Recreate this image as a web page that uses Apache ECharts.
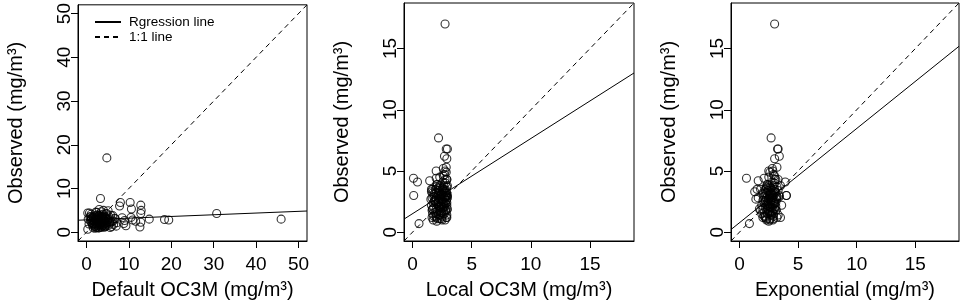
<!DOCTYPE html>
<html>
<head>
<meta charset="utf-8">
<script src="https://cdn.jsdelivr.net/npm/echarts@6/dist/echarts.min.js"></script>
<style>
  html, body { margin: 0; background: #fff; }
  #chart { width: 964px; height: 306px; }
</style>
</head>
<body>
<div id="chart"></div>
<script>
// observed concentration, shared by all three panels
const observed = [
  17.0, 7.7, 6.8, 6.8, 6.2, 6.0, 5.3, 5.2, 5.0, 5.0, 4.4, 4.1, 4.2, 3.0, 0.7,
  0.9, 1.0, 1.0, 1.1, 1.2, 1.2, 1.3, 1.3, 1.4, 1.4, 1.5, 1.5, 1.6, 1.6, 1.7,
  1.7, 1.8, 1.8, 1.9, 1.9, 2.0, 2.0, 2.1, 2.1, 2.2, 2.2, 2.3, 2.3, 2.4, 2.4,
  2.5, 2.5, 2.6, 2.6, 2.7, 2.7, 2.8, 2.8, 2.9, 2.9, 3.0, 3.0, 3.1, 3.1, 3.2,
  3.2, 3.3, 3.3, 3.4, 3.4, 3.5, 3.5, 3.6, 3.7, 3.7, 3.8, 3.9, 4.0, 4.1, 4.3,
  4.5, 4.7, 4.9, 3.5, 1.2, 3.4, 2.8, 2.5, 4.3, 2.3, 1.5, 3.0, 2.9, 2.8, 4.3,
  3.0, 3.1, 3.3, 2.0, 1.9, 2.6, 3.6, 4.4, 1.1, 2.2, 3.8, 2.7, 1.4, 3.2, 4.6,
  2.4, 1.8, 3.9, 2.1, 3.5,
  1.0, 1.1, 1.3, 1.5, 1.6, 1.8, 1.9, 2.0, 2.2, 2.3, 2.5, 2.6, 2.7, 2.8, 2.9,
  3.0, 3.1, 3.2, 3.3, 3.4, 3.6, 3.7, 2.4, 2.1, 1.7, 3.8, 1.2, 2.6, 3.0, 2.9
];
const defaultOC3M = [
  4.8, 3.3, 8.0, 10.3, 12.8, 7.8, 10.6, 3.0, 4.0, 12.9, 0.3, 1.1, 4.6, 0.4, 0.3,
  2.1, 2.8, 1.6, 3.5, 4.2, 2.3, 5.9, 1.9, 3.1, 4.6, 2.6, 3.8, 1.4, 5.2, 2.9,
  4.0, 6.4, 2.2, 3.3, 1.7, 4.4, 2.5, 3.6, 5.5, 1.2, 2.8, 3.9, 4.9, 2.0, 3.2,
  6.1, 2.4, 3.7, 1.5, 4.3, 2.7, 3.4, 5.0, 2.1, 4.1, 3.0, 1.8, 4.7, 2.6, 3.5,
  6.6, 2.3, 4.5, 3.8, 1.3, 2.9, 5.3, 3.6, 2.0, 4.2, 3.1, 5.7, 2.6, 3.9, 4.8,
  2.4, 3.5, 5.1, 0.8, 12.6, 10.5, 10.9, 11.6, 12.8, 12.8, 9.3, 14.8, 18.4, 19.4, 30.7,
  45.9, 6.8, 8.4, 8.8, 0.6, 0.9, 1.0, 0.7, 5.6, 7.2, 6.2, 9.0, 7.0, 1.2, 2.2,
  5.8, 3.4, 2.7, 4.4, 1.6,
  3.0, 2.4, 3.6, 4.4, 2.2, 3.1, 4.8, 1.9, 3.4, 2.7, 4.1, 1.8, 3.3, 2.5, 3.9,
  4.5, 2.3, 3.0, 1.6, 4.0, 2.8, 3.5, 5.4, 1.5, 3.7, 2.9, 4.3, 6.3, 5.1, 1.1
];
const localOC3M = [
  2.75, 2.2, 2.95, 2.85, 2.7, 2.9, 2.85, 2.6, 2.0, 2.75, 0.08, 0.42, 1.45, 0.1, 0.55,
  2.05, 2.75, 1.75, 2.3, 2.85, 1.65, 2.5, 2.0, 2.9, 2.2, 1.7, 2.6, 2.45, 1.9, 2.8,
  2.1, 1.65, 2.35, 2.95, 2.0, 2.55, 1.8, 2.7, 2.25, 1.6, 2.9, 2.4, 2.05, 2.75, 1.75,
  2.6, 2.2, 2.85, 1.9, 2.5, 2.0, 2.95, 1.65, 2.3, 2.7, 2.15, 2.8, 1.8, 2.45, 2.9,
  2.0, 2.6, 1.6, 2.85, 2.25, 2.7, 1.95, 2.5, 2.9, 2.35, 2.65, 2.1, 2.8, 2.55, 2.9,
  2.3, 2.7, 2.85, 1.6, 2.9, 2.6, 2.4, 2.5, 2.75, 2.6, 2.05, 2.9, 2.8, 2.7, 2.9,
  2.95, 2.5, 2.7, 2.3, 1.7, 1.85, 2.15, 2.0, 2.45, 2.65, 2.95, 1.55, 2.35, 1.9, 2.6,
  2.2, 2.8, 2.05, 2.4, 1.7,
  2.5, 2.1, 1.8, 2.7, 2.4, 2.9, 1.7, 2.6, 2.2, 2.8, 1.9, 2.5, 2.3, 2.0, 2.9,
  2.6, 2.4, 1.7, 2.8, 2.15, 2.55, 2.0, 2.9, 2.45, 2.65, 2.3, 2.0, 2.85, 2.35, 1.8
];
const exponential = [
  3.0, 2.7, 3.3, 3.25, 3.4, 3.0, 3.2, 2.8, 2.5, 2.85, 0.6, 3.9, 1.6, 4.0, 0.85,
  2.5, 2.85, 2.3, 2.6, 3.2, 2.0, 2.9, 2.2, 3.3, 2.7, 1.9, 2.4, 2.8, 2.1, 2.5,
  2.6, 1.8, 2.9, 3.0, 2.4, 2.7, 2.2, 3.1, 2.5, 1.9, 2.8, 2.3, 2.6, 3.0, 2.1,
  2.9, 2.4, 2.7, 2.2, 3.2, 2.5, 2.8, 1.6, 2.6, 3.4, 2.4, 2.9, 2.0, 2.7, 3.1,
  2.3, 2.6, 1.3, 2.8, 2.5, 3.0, 2.2, 2.7, 3.2, 2.6, 2.9, 2.4, 3.0, 2.8, 3.1,
  2.5, 2.9, 2.6, 1.5, 3.5, 3.3, 2.8, 2.7, 3.0, 2.9, 2.4, 4.0, 3.2, 3.1, 3.3,
  3.4, 2.8, 3.0, 2.6, 1.7, 2.0, 2.3, 2.1, 2.9, 3.6, 3.5, 1.4, 2.75, 2.2, 3.0,
  2.45, 3.15, 2.35, 2.65, 1.8,
  2.6, 2.3, 2.1, 2.9, 2.6, 3.1, 2.0, 2.8, 2.4, 3.0, 2.2, 2.7, 2.5, 2.3, 3.2,
  2.8, 2.6, 2.0, 3.0, 2.4, 2.7, 2.3, 3.1, 2.6, 2.8, 2.5, 2.2, 3.0, 2.55, 2.1
];

const xTitles = ['Default OC3M (mg/m³)', 'Local OC3M (mg/m³)', 'Exponential (mg/m³)'];
const yTitle = 'Observed (mg/m³)';
const ticksDefault = [0, 10, 20, 30, 40, 50];
const ticksLocal = [0, 5, 10, 15];
// regression line: [intercept, slope]
const fits = [[2.83, 0.039], [1.51, 0.614], [0.77, 0.77]];

const font = 'Liberation Sans, Arial, sans-serif';
const panels = [
  {x: defaultOC3M, fit: fits[0], range: [-2, 52], ticks: ticksDefault, left: 78, width: 229},
  {x: localOC3M, fit: fits[1], range: [-0.72, 18.72], ticks: ticksLocal, left: 404, width: 230},
  {x: exponential, fit: fits[2], range: [-0.72, 18.72], ticks: ticksLocal, left: 731, width: 228},
];

const grid = [], xAxis = [], yAxis = [], series = [];
panels.forEach((p, i) => {
  grid.push({left: p.left, width: p.width, top: 3, height: 238,
    show: true, borderColor: '#000', borderWidth: 1, backgroundColor: 'transparent'});
  const axisCommon = {
    type: 'value', gridIndex: i, min: p.range[0], max: p.range[1],
    axisLine: {show: true, onZero: false, lineStyle: {color: '#000', width: 1}},
    axisTick: {show: true, length: 7, lineStyle: {color: '#000'}, customValues: p.ticks},
    splitLine: {show: false},
    nameLocation: 'middle',
    nameTextStyle: {color: '#000', fontSize: 20, fontFamily: font},
  };
  xAxis.push({...axisCommon, name: xTitles[i], nameGap: 39,
    axisLabel: {color: '#000', fontSize: 19, fontFamily: font, margin: 14, customValues: p.ticks}});
  yAxis.push({...axisCommon, name: yTitle, nameGap: 52,
    axisLabel: {color: '#000', fontSize: 19, fontFamily: font, margin: 4, rotate: 90, customValues: p.ticks}});

  series.push({
    type: 'scatter', xAxisIndex: i, yAxisIndex: i,
    data: observed.map((v, k) => [p.x[k], v]),
    symbol: 'circle', symbolSize: 8,
    itemStyle: {color: 'rgba(0,0,0,0)', borderColor: '#000', borderWidth: 1.1},
  });
  series.push({
    name: 'Rgression line', type: 'line', xAxisIndex: i, yAxisIndex: i,
    data: p.range.map(v => [v, p.fit[0] + p.fit[1] * v]),
    symbol: 'none', clip: true,
    itemStyle: {color: '#000'},
    lineStyle: {color: '#000', width: 1},
  });
  series.push({
    name: '1:1 line', type: 'line', xAxisIndex: i, yAxisIndex: i,
    data: p.range.map(v => [v, v]),
    symbol: 'none', clip: true,
    itemStyle: {color: '#000'},
    lineStyle: {color: '#000', width: 1, type: [5, 4]},
  });
});

const myChart = echarts.init(document.getElementById('chart'));
myChart.setOption({
  animation: false,
  legend: {
    data: ['Rgression line', '1:1 line'],
    orient: 'vertical', left: 89, top: 10,
    itemWidth: 26, itemHeight: 14, itemGap: 1,
    itemStyle: {color: 'rgba(0,0,0,0)', borderColor: 'rgba(0,0,0,0)', borderWidth: 0},
    textStyle: {color: '#000', fontSize: 13.5, lineHeight: 14, fontFamily: font, padding: [0, 0, 0, 3]},
    selectedMode: false,
  },
  grid, xAxis, yAxis, series,
});
</script>
</body>
</html>
